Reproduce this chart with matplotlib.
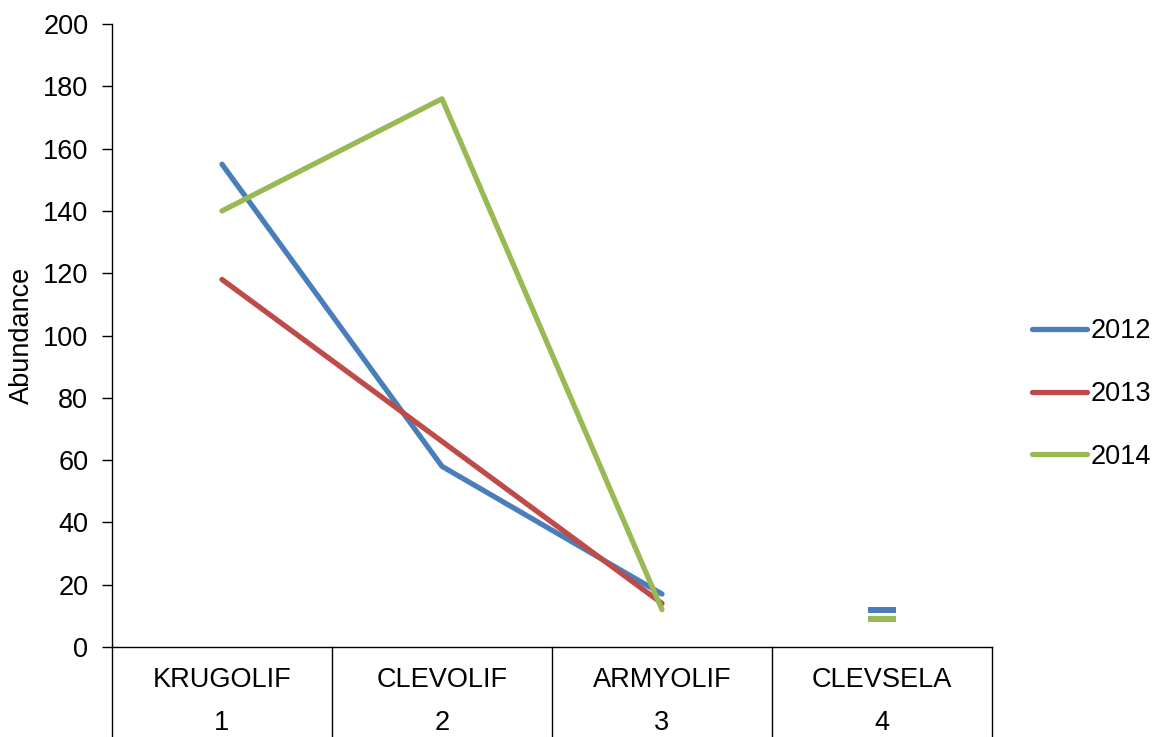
import matplotlib.pyplot as plt
import matplotlib.transforms as mtransforms

plt.rcParams['font.family'] = ['Liberation Sans', 'DejaVu Sans']

species = ['KRUGOLIF', 'CLEVOLIF', 'ARMYOLIF', 'CLEVSELA']
positions = [1, 2, 3, 4]
years = ['2012', '2013', '2014']
abund_2012 = [155, 58, 17, 12]
abund_2013 = [118, 66, 14, None]
abund_2014 = [140, 176, 12, 9]
colors = ['#4A7EBB', '#BE4B48', '#98B954']

fig = plt.figure(figsize=(11.53, 7.37), dpi=100)
ax = fig.add_axes([0.0971, 0.1221, 0.7633, 0.8453])

fs = 19.5
for vals, yr, c in zip([abund_2012, abund_2013, abund_2014], years, colors):
    # connected part of each series
    ax.plot(positions[:3], vals[:3], color=c, lw=3.8, solid_capstyle='round',
            solid_joinstyle='round', label=yr)
    # lone point in the last category is shown as a dash marker
    if vals[3] is not None:
        ax.plot([positions[3]], [vals[3]], marker='_', ms=20, mew=4.3, color=c,
                ls='none')

ax.set_xlim(0.5, 4.5)
ax.set_ylim(0, 200)
ax.set_yticks(range(0, 201, 20))
ax.tick_params(axis='y', labelsize=fs, length=7, width=1, direction='out', pad=10)
ax.set_xticks([])
ax.set_ylabel('Abundance', fontsize=fs, labelpad=6)

for s in ['top', 'right']:
    ax.spines[s].set_visible(False)
for s in ['left', 'bottom']:
    ax.spines[s].set_linewidth(1)

# two-level category axis drawn as boxes under the plot
trans = mtransforms.blended_transform_factory(ax.transData, ax.transAxes)
for b in [0.5, 1.5, 2.5, 3.5, 4.5]:
    ax.plot([b, b], [0, -0.15], color='black', lw=1, transform=trans,
            clip_on=False)
for p, name in zip(positions, species):
    ax.text(p, -0.053, name, transform=trans, ha='center', va='center',
            fontsize=fs)
    ax.text(p, -0.122, str(p), transform=trans, ha='center', va='center',
            fontsize=fs)

fig.legend(loc='center left', bbox_to_anchor=(0.895, 0.4654), frameon=False,
           fontsize=fs, handlelength=2.05, handletextpad=0.1, labelspacing=1.35,
           borderpad=0, borderaxespad=0)

fig.savefig('out.png', dpi=100)
